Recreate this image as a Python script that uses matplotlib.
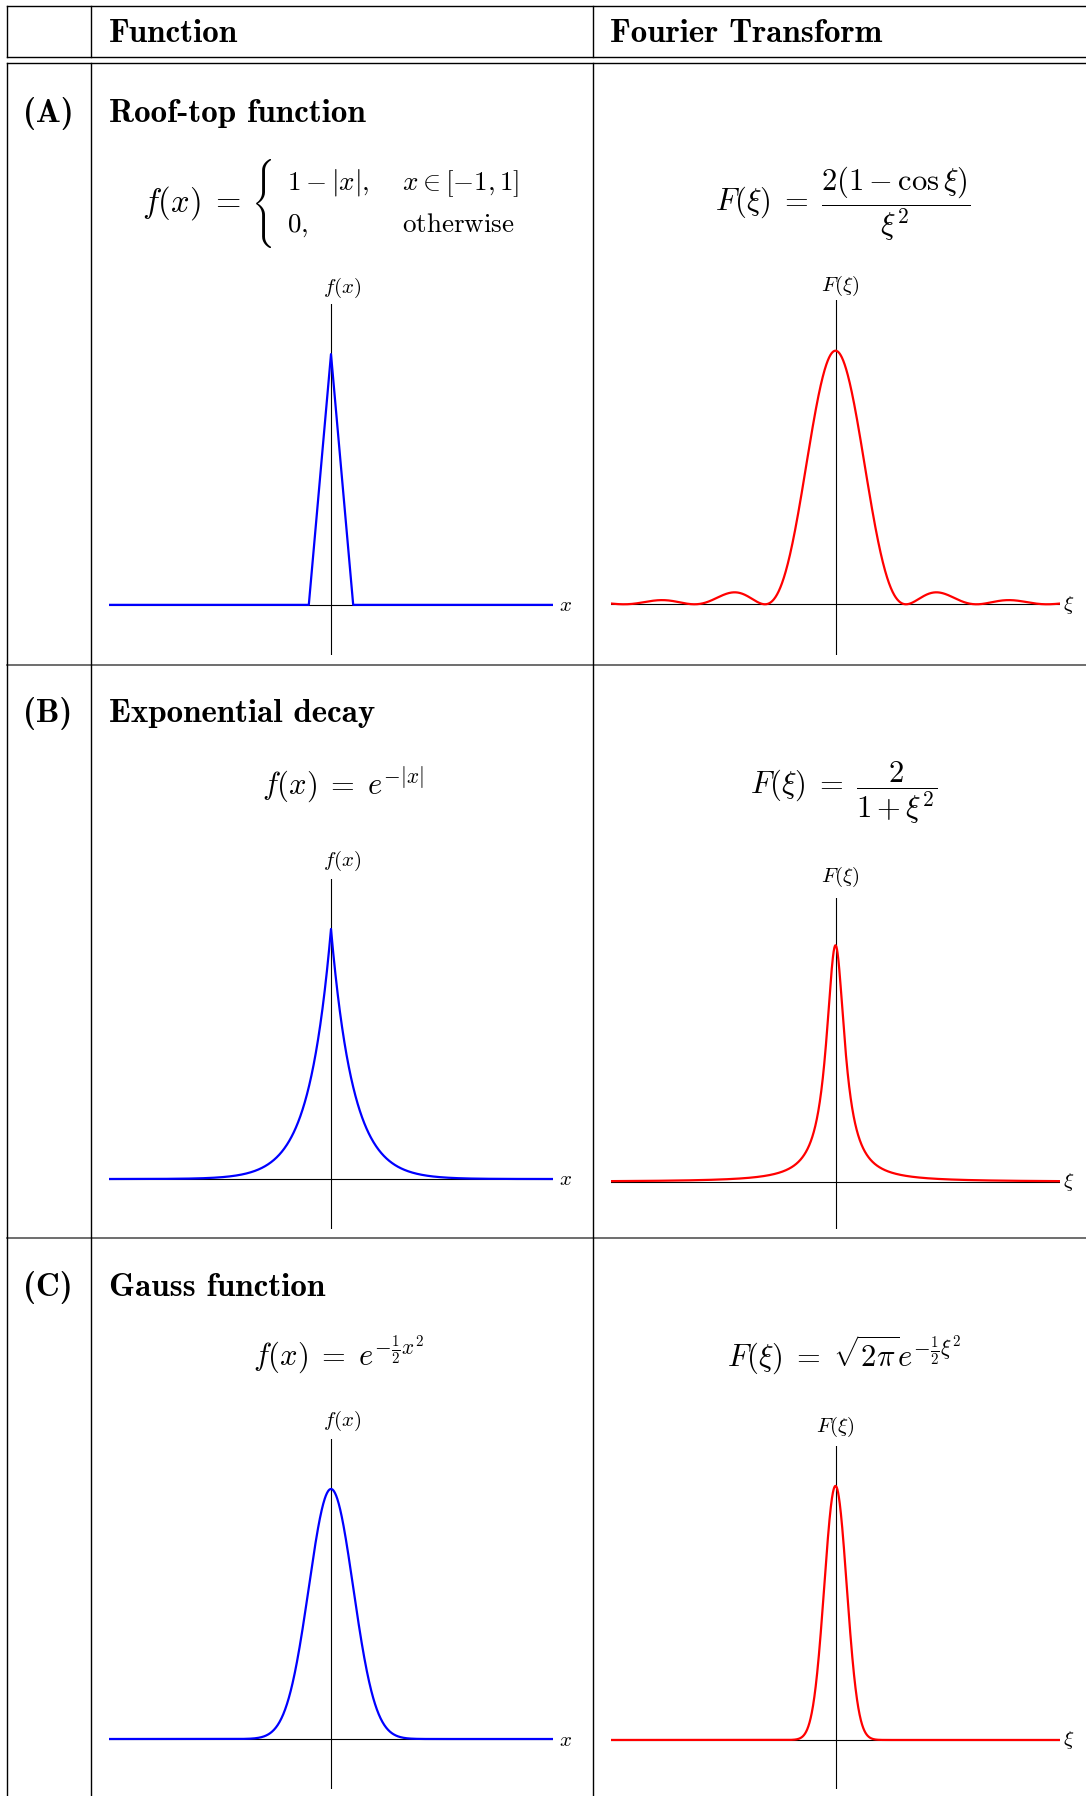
import numpy as np
import matplotlib
matplotlib.use("Agg")
import matplotlib.pyplot as plt

plt.rcParams['mathtext.fontset'] = 'cm'

W, H = 1086, 1796

# table text
header = ['Function', 'Fourier Transform']
row_labels = ['(A)', '(B)', '(C)']
row_titles = ['Roof-top function', 'Exponential decay', 'Gauss function']

# roof-top function corner points
roof_x = [-10, -1, 0, 1, 10]
roof_y = [0, 0, 1, 0, 0]

# sample grids for the smooth curves
x_grid = np.linspace(-10, 10, 1201)
xi_grid = np.linspace(-20, 20, 2401)

# curves as given by the formulas in the table
roof_ft = np.sinc(xi_grid / (2 * np.pi))**2      # = 2(1 - cos xi) / xi^2
exp_f = np.exp(-np.abs(x_grid))
exp_ft = 2 / (1 + xi_grid**2)
gauss_f = np.exp(-0.5 * x_grid**2)
gauss_ft = np.sqrt(2 * np.pi) * np.exp(-0.5 * xi_grid**2)

fig = plt.figure(figsize=(W / 100, H / 100), dpi=100)
bg = fig.add_axes([0, 0, 1, 1])
bg.set_xlim(0, W)
bg.set_ylim(H, 0)
bg.axis('off')

# --- table rules ---
for y in [6, 57, 63]:
    bg.plot([7, W], [y, y], color='k', lw=1.0)
for y in [665, 1238]:
    bg.plot([7, W], [y, y], color='#555555', lw=1.2)
for x in [7, 91, 593]:
    bg.plot([x, x], [6, 57], color='k', lw=1.0)
    bg.plot([x, x], [63, H], color='k', lw=1.0)

bold = dict(family='cmb10', fontsize=23.8, va='center')
bg.text(109, 33, header[0], ha='left', **bold)
bg.text(610, 33, header[1], ha='left', **bold)

row_y = [113, 714, 1287]
for lab, title, y in zip(row_labels, row_titles, row_y):
    bg.text(48, y, lab, ha='center', **bold)
    bg.text(109, y, title, ha='left', **bold)

# --- formulas ---
fs = 22
cs = 19.5
bg.text(142, 203, r'$f(x)\;=$', fontsize=23.5, ha='left', va='center')
# large cases brace (cmex10 glyph)
bg.text(252, 203, '\x28', family='cmex10', fontsize=20.6, ha='left', va='center')
bg.text(287, 190, r'$1-|x|,$', fontsize=cs, ha='left', va='baseline')
bg.text(287, 232, r'$0,$', fontsize=cs, ha='left', va='baseline')
bg.text(402, 190, r'$x\in[-1,1]$', fontsize=cs, ha='left', va='baseline')
bg.text(402, 232, r'$\mathrm{otherwise}$', fontsize=cs, ha='left', va='baseline')

bg.text(715, 204, r'$F(\xi)\;=\;\dfrac{2(1-\cos\xi)}{\xi^2}$', fontsize=fs,
        ha='left', va='center')
bg.text(262, 795, r'$f(x)\;=\;e^{-|x|}$', fontsize=fs, ha='left', va='baseline')
bg.text(750, 793, r'$F(\xi)\;=\;\dfrac{2}{1+\xi^2}$', fontsize=fs,
        ha='left', va='center')
bg.text(253, 1366, r'$f(x)\;=\;e^{-\frac{1}{2}x^2}$', fontsize=fs,
        ha='left', va='baseline')
bg.text(727, 1367, r'$F(\xi)\;=\;\sqrt{2\pi}e^{-\frac{1}{2}\xi^2}$', fontsize=fs,
        ha='left', va='baseline')


def panel(l, r, t, b, xlim, ymax, lo=-0.2, hi=1.2):
    ax = fig.add_axes([l / W, 1 - b / H, (r - l) / W, (b - t) / H])
    ax.set_xlim(xlim)
    ax.set_ylim(lo * ymax, hi * ymax)
    ax.axis('off')
    ax.axhline(0, color='k', lw=0.8, zorder=1)
    ax.axvline(0, color='k', lw=0.8, zorder=1)
    return ax


lab_fs = 15
# (A)
ax = panel(109, 553, 304, 655, (-10, 10), 1.0)
ax.plot(roof_x, roof_y, color='#0000ff', lw=1.6, zorder=3)
bg.text(342, 288, r'$f(x)$', fontsize=lab_fs, ha='center', va='center')
bg.text(559, 605, r'$x$', fontsize=lab_fs, ha='left', va='center')

ax = panel(611, 1060, 300, 655, (-20, 20), 1.0)
ax.plot(xi_grid, roof_ft, color='#ff0000', lw=1.6, zorder=3)
bg.text(840, 286, r'$F(\xi)$', fontsize=lab_fs, ha='center', va='center')
bg.text(1063, 605, r'$\xi$', fontsize=lab_fs, ha='left', va='center')

# (B)
ax = panel(109, 553, 879, 1229, (-10, 10), 1.0)
ax.plot(x_grid, exp_f, color='#0000ff', lw=1.6, zorder=3)
bg.text(342, 861, r'$f(x)$', fontsize=lab_fs, ha='center', va='center')
bg.text(559, 1179, r'$x$', fontsize=lab_fs, ha='left', va='center')

ax = panel(611, 1060, 898, 1229, (-20, 20), 2.0)
ax.plot(xi_grid, exp_ft, color='#ff0000', lw=1.6, zorder=3)
bg.text(840, 877, r'$F(\xi)$', fontsize=lab_fs, ha='center', va='center')
bg.text(1063, 1182, r'$\xi$', fontsize=lab_fs, ha='left', va='center')

# (C)
ax = panel(109, 553, 1439, 1789, (-10, 10), 1.0)
ax.plot(x_grid, gauss_f, color='#0000ff', lw=1.6, zorder=3)
bg.text(342, 1421, r'$f(x)$', fontsize=lab_fs, ha='center', va='center')
bg.text(559, 1740, r'$x$', fontsize=lab_fs, ha='left', va='center')

ax = panel(611, 1060, 1446, 1789, (-20, 20), np.sqrt(2 * np.pi), -0.193, 1.157)
ax.plot(xi_grid, gauss_ft, color='#ff0000', lw=1.6, zorder=3)
bg.text(835, 1427, r'$F(\xi)$', fontsize=lab_fs, ha='center', va='center')
bg.text(1063, 1740, r'$\xi$', fontsize=lab_fs, ha='left', va='center')

fig.savefig('out.png', dpi=100)
